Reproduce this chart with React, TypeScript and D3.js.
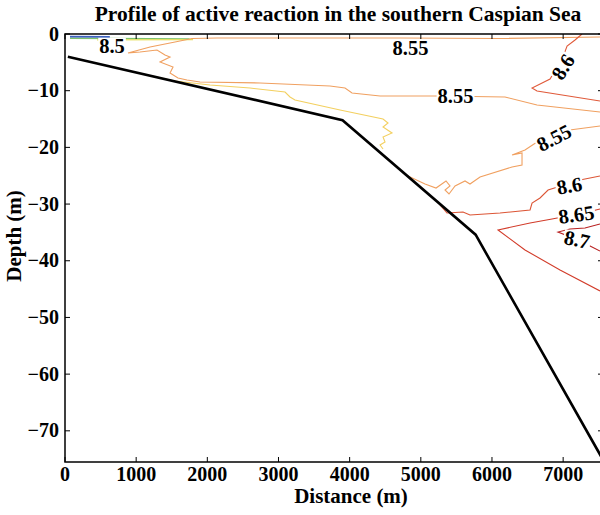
import React from 'react';
import * as d3 from 'd3';

type P = [number, number];

const title = 'Profile of active reaction in the southern Caspian Sea';
const xLabel = 'Distance (m)';
const yLabel = 'Depth (m)';
const xTicks = [0, 1000, 2000, 3000, 4000, 5000, 6000, 7000];
const yTicks = [0, -10, -20, -30, -40, -50, -60, -70];

// sea floor profile (distance m, depth m)
const bathymetry: P[] = [[40, -4.0], [3900, -15.2], [5770, -35.4], [7600, -76]];

// surface contours (8.5 group)
const surfaceBlue: P[] = [[70, -0.45], [630, -0.5]];
const surfaceGreen: P[] = [[70, -0.75], [1750, -0.85]];
const surfaceYellow: P[] = [[450, -1.05], [1800, -1.0]];

// 8.55 upper closed contour
const c855Upper: P[] = [
  [7518, -0.53], [6113, -0.79], [4708, -0.71], [3302, -0.71], [2136, -0.71], [1785, -0.79],
  [1546, -1.41], [1195, -2.29], [885, -3.35], [1054, -3.18], [1293, -2.82], [1405, -3.7],
  [1476, -4.06], [1335, -4.94], [1518, -5.82], [1476, -6.88], [1588, -7.76], [1714, -8.11],
  [1897, -8.47], [2740, -8.64], [3724, -9.17], [3935, -9.53], [4033, -10.41], [4427, -10.94],
  [5270, -10.94], [6183, -11.11], [6633, -12.52], [7518, -13.76],
];

// 8.525 contour along the slope
const c8525: P[] = [
  [1195, -7.32], [1546, -8.29], [2038, -9.0], [2600, -9.53], [3092, -10.23], [3162, -11.11],
  [3232, -11.64], [3865, -13.41], [4469, -14.99], [4539, -15.7], [4469, -16.41], [4595, -17.46],
  [4469, -18.17], [4497, -19.05], [4427, -19.58], [4469, -20.29],
];

// 8.55 lower contour
const c855Lower: P[] = [
  [4820, -25.05], [5059, -26.46], [5214, -27.17], [5354, -25.93], [5410, -26.81], [5340, -27.52],
  [5396, -28.22], [5481, -26.81], [5621, -25.93], [5691, -26.46], [5832, -25.22], [6282, -23.46],
  [6422, -23.11], [6422, -20.99], [6282, -21.34], [6464, -20.46], [6633, -19.05], [6984, -17.11],
  [7518, -16.23],
];

// 8.6 upper contour
const c86Upper: P[] = [
  [7265, 0], [7167, -1.06], [7055, -2.12], [6998, -4.06], [6816, -7.94], [6563, -9.53],
  [6633, -10.05], [7518, -11.82],
];

// 8.6 lower contour
const c86Lower: P[] = [
  [5270, -30.16], [5368, -31.58], [5593, -31.4], [5691, -31.93], [6113, -31.58], [6535, -31.05],
  [6563, -29.81], [6675, -28.93], [6788, -27.52], [7237, -25.75], [7518, -25.05],
];

// 8.65 contour
const c865: P[] = [
  [7518, -30.87], [7350, -31.4], [6844, -32.63], [6535, -33.34], [6085, -34.57], [6464, -38.1],
  [6956, -41.63], [7518, -45.33],
];

// 8.7 contour
const c87: P[] = [
  [7518, -33.52], [7307, -34.22], [7096, -34.4], [6928, -34.93], [7069, -35.63], [7378, -37.4],
  [7518, -38.28],
];

const labelTexts = ['8.5', '8.55', '8.55', '8.55', '8.6', '8.6', '8.65', '8.7'];
const labelX = [661, 4855, 5488, 6873, 7001, 7087, 7186, 7195];
const labelZ = [-2.12, -2.47, -10.94, -18.35, -5.82, -26.8, -31.9, -36.3];
const labelAngle = [0, 0, 0, -27, -58, -10, -8, 12];

const W = 600;
const H = 515;
const left = 65;
const right = 603;
const top = 34;
const bottom = 462;
const font = '"Liberation Serif", "Times New Roman", serif';

export default function App() {
  const x = d3.scaleLinear().domain([0, 7560]).range([left, right]);
  const y = d3.scaleLinear().domain([-75.5, 0]).range([bottom, top]);
  const line = d3.line<P>().x((d) => x(d[0])).y((d) => y(d[1]));

  const contours: { pts: P[]; color: string; w: number }[] = [
    { pts: surfaceGreen, color: '#7cc070', w: 1.3 },
    { pts: surfaceBlue, color: '#3c5fc0', w: 1.8 },
    { pts: surfaceYellow, color: '#e6e060', w: 1.3 },
    { pts: c855Upper, color: '#f0a060', w: 1.1 },
    { pts: c8525, color: '#f3d060', w: 1.1 },
    { pts: c855Lower, color: '#f0a060', w: 1.1 },
    { pts: c86Upper, color: '#e05a3a', w: 1.1 },
    { pts: c86Lower, color: '#dc5535', w: 1.1 },
    { pts: c865, color: '#d23c2a', w: 1.1 },
    { pts: c87, color: '#b82020', w: 1.1 },
  ];

  const labelSize = 20.5;
  const textW = (s: string) =>
    s.split('').reduce((a, c) => a + (c === '.' ? 0.25 : 0.5), 0) * labelSize;

  return (
    <svg
      width={W}
      height={H}
      style={{ position: 'absolute', left: 0, top: 0, background: '#fff' }}
      fontFamily={font}
    >
      <defs>
        <clipPath id="plot">
          <rect x={left} y={top} width={right - left} height={bottom - top} />
        </clipPath>
      </defs>
      <rect x={0} y={0} width={W} height={H} fill="#fff" />
      <text x={338} y={21} textAnchor="middle" fontSize={21.5} fontWeight="bold">
        {title}
      </text>

      <g clipPath="url(#plot)">
        {contours.map((c, i) => (
          <path key={i} d={line(c.pts) || ''} fill="none" stroke={c.color} strokeWidth={c.w} />
        ))}
        {labelTexts.map((t, i) => {
          const cx = x(labelX[i]);
          const cy = y(labelZ[i]);
          const w = textW(t);
          return (
            <g key={i} transform={`translate(${cx},${cy}) rotate(${labelAngle[i]})`}>
              <rect x={-w / 2 - 1} y={-labelSize * 0.4} width={w + 2} height={labelSize * 0.8} fill="#fff" />
              <text x={0} y={0} dy="0.33em" textAnchor="middle" fontSize={labelSize} fontWeight="bold">
                {t}
              </text>
            </g>
          );
        })}
        <path d={line(bathymetry) || ''} fill="none" stroke="#000" strokeWidth={2.6} />
      </g>

      {/* frame */}
      <rect x={left} y={top} width={right - left} height={bottom - top} fill="none" stroke="#000" strokeWidth={1.5} />
      {xTicks.map((t) => (
        <g key={'x' + t}>
          <line x1={x(t)} x2={x(t)} y1={bottom} y2={bottom - 5} stroke="#000" strokeWidth={1} />
          <line x1={x(t)} x2={x(t)} y1={top} y2={top + 5} stroke="#000" strokeWidth={1} />
          <text x={x(t)} y={481} textAnchor="middle" fontSize={20} fontWeight="bold">
            {t}
          </text>
        </g>
      ))}
      {yTicks.map((t) => (
        <g key={'y' + t}>
          <line x1={left} x2={left + 5} y1={y(t)} y2={y(t)} stroke="#000" strokeWidth={1} />
          <line x1={right} x2={right - 5} y1={y(t)} y2={y(t)} stroke="#000" strokeWidth={1} />
          <text x={59} y={y(t)} dy="0.33em" textAnchor="end" fontSize={20} fontWeight="bold">
            {t === 0 ? '0' : '\u2212' + Math.abs(t)}
          </text>
        </g>
      ))}
      <text x={351} y={503} textAnchor="middle" fontSize={21} fontWeight="bold">
        {xLabel}
      </text>
      <text transform="translate(21,236) rotate(-90)" textAnchor="middle" fontSize={21} fontWeight="bold">
        {yLabel}
      </text>
    </svg>
  );
}
